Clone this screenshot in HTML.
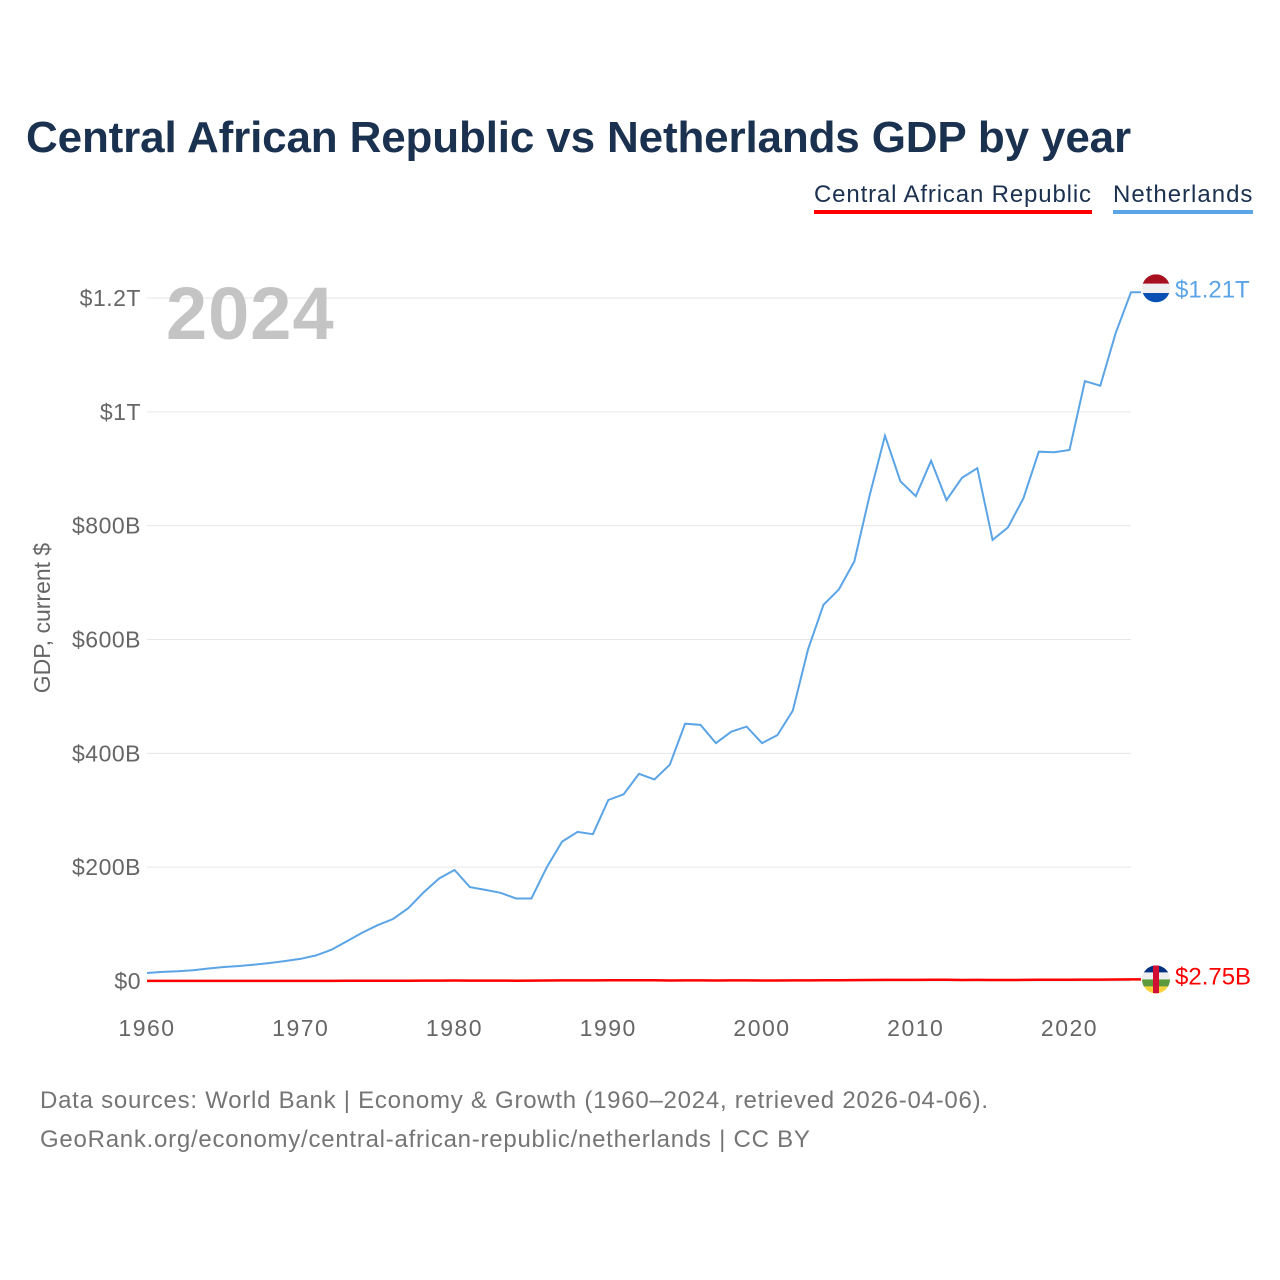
<!DOCTYPE html>
<html><head><meta charset="utf-8"><style>
html,body{margin:0;padding:0;background:#fff;}
body{width:1280px;height:1280px;position:relative;font-family:"Liberation Sans",sans-serif;overflow:hidden;}
.t{position:absolute;white-space:nowrap;}
</style></head><body>
<div class="t" style="left:26px;top:113px;font-size:44px;font-weight:bold;color:#1b3150;letter-spacing:-0.15px">Central African Republic vs Netherlands GDP by year</div>
<div class="t" style="left:814px;top:181px;font-size:24px;color:#1b3150;border-bottom:4px solid #ff0000;padding-bottom:1px;letter-spacing:0.85px">Central African Republic</div>
<div class="t" style="left:1113px;top:181px;font-size:24px;color:#1b3150;border-bottom:4px solid #5ba4e6;padding-bottom:1px;letter-spacing:1px">Netherlands</div>
<svg id="chart" width="1280" height="1280" style="position:absolute;left:0;top:0"></svg>
<div class="t" style="left:40px;top:1081px;font-size:24px;color:#757575;line-height:39px;letter-spacing:0.75px">Data sources: World Bank | Economy &amp; Growth (1960–2024, retrieved 2026-04-06).<br>GeoRank.org/economy/central-african-republic/netherlands | CC BY</div>
<script>
const years=[];for(let y=1960;y<=2024;y++)years.push(y);
const nld=[14,16,17,19,22,24.6,26.4,28.8,31.6,35.1,39,45,55,70,85,98,109,128,156,180,195,165,160,155,145,145,200,245,262,258,318,328,364,354,380,452,450,418,438,447,418,432,475,583,661,688,737,853,958,878,852,914,845,884,901,775,797,848,930,929,933,1054,1046,1138,1210];
const caf=[0.11,0.12,0.13,0.14,0.15,0.16,0.17,0.17,0.18,0.19,0.19,0.2,0.22,0.27,0.33,0.41,0.46,0.55,0.63,0.73,0.8,0.7,0.67,0.63,0.58,0.7,0.9,1.0,1.1,1.1,1.4,1.4,1.4,1.2,0.85,1.1,1.0,0.94,1.0,1.0,0.91,0.93,0.99,1.1,1.3,1.35,1.5,1.7,2.0,2.0,2.0,2.2,2.2,1.7,1.9,1.7,1.8,2.0,2.2,2.2,2.3,2.5,2.4,2.6,2.75];
const yTicks=[0,200,400,600,800,1000,1200];
const yTickLabels=["$0","$200B","$400B","$600B","$800B","$1T","$1.2T"];
const xTicks=[1960,1970,1980,1990,2000,2010,2020];
const ns="http://www.w3.org/2000/svg",svg=document.getElementById('chart');
const X=y=>147+(y-1960)*(1131-147)/64;
const Y=v=>981-v*(981-298)/1200;
function mk(tag,attrs,txt){const e=document.createElementNS(ns,tag);for(const k in attrs)e.setAttribute(k,attrs[k]);if(txt!==undefined)e.textContent=txt;svg.appendChild(e);return e;}
yTicks.forEach((v,i)=>{
 const g=mk('line',{x1:147,x2:1131,y1:Y(v),y2:Y(v),stroke:'#e6e6e6','stroke-width':1});
 
 
 const t=mk('text',{x:141,y:Y(v)+8,'text-anchor':'end','font-size':23,fill:'#666','font-family':'Liberation Sans','letter-spacing':0.5},yTickLabels[i]);
 
 
});
xTicks.forEach(v=>{
 const t=mk('text',{x:X(v),y:1036,'text-anchor':'middle','font-size':23,fill:'#666','font-family':'Liberation Sans','letter-spacing':1.5},String(v));
 
 
});
const yt=mk('text',{x:0,y:0,transform:'translate(50,618) rotate(-90)','text-anchor':'middle','font-size':23,fill:'#666','font-family':'Liberation Sans'},'GDP, current $');


const yr=mk('text',{x:166,y:339,'font-size':74,'font-weight':'bold',fill:'#c4c4c4','font-family':'Liberation Sans','letter-spacing':1},'2024');


function line(data,color,name){
 let d=data.map((v,i)=>(i?'L':'M')+X(years[i]).toFixed(1)+' '+Y(v).toFixed(1)).join(' ');
 d+=' L'+(X(2024)+10)+' '+Y(data[data.length-1]).toFixed(1);
 const p=mk('path',{d:d,fill:'none',stroke:color,'stroke-width':name==='line-car'?2.5:2});
 
 
}
line(nld,'#5ba4e6','line-netherlands');
line(caf,'#ff0000','line-car');
const fy1=Y(nld[nld.length-1])-4,fy2=Y(caf[caf.length-1]);
let defs=mk('defs',{});
defs.innerHTML='<clipPath id="c1"><circle cx="1156" cy="'+fy1+'" r="14"/></clipPath><clipPath id="c2"><circle cx="1156" cy="'+fy2+'" r="14"/></clipPath>';
const f1=mk('g',{'clip-path':'url(#c1)'});


f1.innerHTML='<rect x="1142" y="'+(fy1-14)+'" width="28" height="10" fill="#a8101f"/><rect x="1142" y="'+(fy1-4.7)+'" width="28" height="9.4" fill="#f0f0f0"/><rect x="1142" y="'+(fy1+4.7)+'" width="28" height="10" fill="#0a4fb3"/>';
const f2=mk('g',{'clip-path':'url(#c2)'});


f2.innerHTML='<rect x="1142" y="'+(fy2-14)+'" width="28" height="7" fill="#003082"/><rect x="1142" y="'+(fy2-7)+'" width="28" height="7" fill="#eee"/><rect x="1142" y="'+fy2+'" width="28" height="7" fill="#5a9a3a"/><rect x="1142" y="'+(fy2+7)+'" width="28" height="7" fill="#f6d33c"/><rect x="1153" y="'+(fy2-14)+'" width="6" height="28" fill="#d21034"/>';
const l1=mk('text',{x:1175,y:fy1+9,'font-size':24,fill:'#5ba4e6','font-family':'Liberation Sans'},'$1.21T');


const l2=mk('text',{x:1175,y:fy2+5,'font-size':24,fill:'#ff0000','font-family':'Liberation Sans'},'$2.75B');


</script>
</body></html>
